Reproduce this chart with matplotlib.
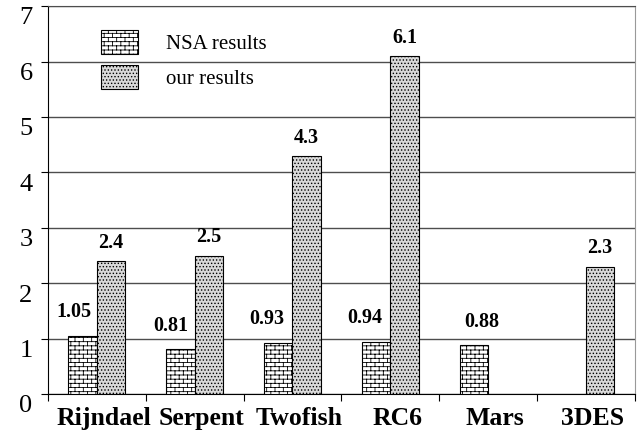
import warnings
import numpy as np
import matplotlib
matplotlib.use('Agg')
import matplotlib.pyplot as plt
import matplotlib.hatch as mhatch
import matplotlib.transforms as mtransforms
from matplotlib.path import Path

warnings.filterwarnings('ignore')

# values
algorithms = ['Rijndael', 'Serpent', 'Twofish', 'RC6', 'Mars', '3DES']
nsa = [1.05, 0.81, 0.93, 0.94, 0.88, None]
ours = [2.4, 2.5, 4.3, 6.1, None, 2.3]
nsa_labels = ['1.05', '0.81', '0.93', '0.94', '0.88', '']
our_labels = ['2.4', '2.5', '4.3', '6.1', '', '2.3']

# horizontal nudge (points) of the NSA value labels
nsa_dx = [-6, -7, -8, -8, 5.5, 0]


# brick pattern for the NSA bars, used via hatch char 'b'
class BrickHatch(mhatch.HatchPatternBase):
    def __init__(self, hatch, density):
        n = hatch.count('b')
        self.rows = n * density * 4
        self.cols = n * density * 2
        self.num_vertices = self.rows * (2 + 2 * self.cols)

    def set_vertices_and_codes(self, vertices, codes):
        k = 0
        for i in range(self.rows):
            y0 = i / self.rows
            y1 = (i + 1) / self.rows
            vertices[k] = (0, y0)
            vertices[k + 1] = (1, y0)
            codes[k] = Path.MOVETO
            codes[k + 1] = Path.LINETO
            k += 2
            shift = 0.5 * (i % 2)
            for j in range(self.cols):
                xx = (j + shift) / self.cols
                vertices[k] = (xx, y0)
                vertices[k + 1] = (xx, y1)
                codes[k] = Path.MOVETO
                codes[k + 1] = Path.LINETO
                k += 2


mhatch._hatch_types.append(BrickHatch)

plt.rcParams['font.family'] = 'Liberation Serif'
plt.rcParams['hatch.linewidth'] = 0.6

fig = plt.figure(figsize=(6.38, 4.37), dpi=100)
ax = fig.add_axes([0.075, 0.098, 0.92, 0.888])

x = np.arange(len(algorithms)) + 0.5
w = 0.29

nsa_x = [x[i] - w / 2 for i in range(len(x)) if nsa[i] is not None]
nsa_v = [v for v in nsa if v is not None]
our_x = [x[i] + w / 2 for i in range(len(x)) if ours[i] is not None]
our_v = [v for v in ours if v is not None]

ax.bar(nsa_x, nsa_v, w, facecolor='white', edgecolor='black',
       linewidth=0.8, hatch='b', label='NSA results', zorder=3)
ax.bar(our_x, our_v, w, facecolor='#d9d9d9', edgecolor='black',
       linewidth=0.8, hatch='.....', label='our results', zorder=3)

for i in range(len(x)):
    if nsa[i] is not None:
        ax.annotate(nsa_labels[i], (x[i] - w / 2, nsa[i]),
                    xytext=(nsa_dx[i], 13.5), textcoords='offset points',
                    ha='center', va='baseline', fontsize=14.5,
                    fontweight='bold')
    if ours[i] is not None:
        ax.annotate(our_labels[i], (x[i] + w / 2, ours[i]), xytext=(0, 9.5),
                    textcoords='offset points', ha='center', va='baseline',
                    fontsize=14.5, fontweight='bold')

ax.set_xlim(0, len(algorithms))
ax.set_ylim(0, 7)
ax.set_yticks(range(0, 8))
ax.tick_params(axis='y', labelsize=19, length=5, direction='out', pad=6)
down = mtransforms.ScaledTranslation(0, -7 / 72, fig.dpi_scale_trans)
for lab in ax.get_yticklabels():
    lab.set_transform(lab.get_transform() + down)

ax.set_xticks(range(0, len(algorithms) + 1))
ax.set_xticklabels([])
ax.tick_params(axis='x', which='major', length=5, direction='out')
ax.set_xticks(x, minor=True)
ax.set_xticklabels(algorithms, minor=True, fontsize=18.5, fontweight='bold')
ax.tick_params(axis='x', which='minor', length=0, pad=9)
right = mtransforms.ScaledTranslation(5 / 72, 0, fig.dpi_scale_trans)
for lab in ax.get_xticklabels(minor=True):
    lab.set_transform(lab.get_transform() + right)

ax.yaxis.grid(True, color='#4d4d4d', linewidth=1)
ax.set_axisbelow(True)
ax.spines['top'].set_color('#4d4d4d')
ax.spines['right'].set_color('#999999')

ax.legend(loc='upper left', bbox_to_anchor=(0.09, 0.938), frameon=False,
          fontsize=15, handlelength=1.78, handleheight=1.4,
          handletextpad=1.35, labelspacing=0.53, borderpad=0,
          borderaxespad=0)

fig.savefig('out.png', dpi=100)
